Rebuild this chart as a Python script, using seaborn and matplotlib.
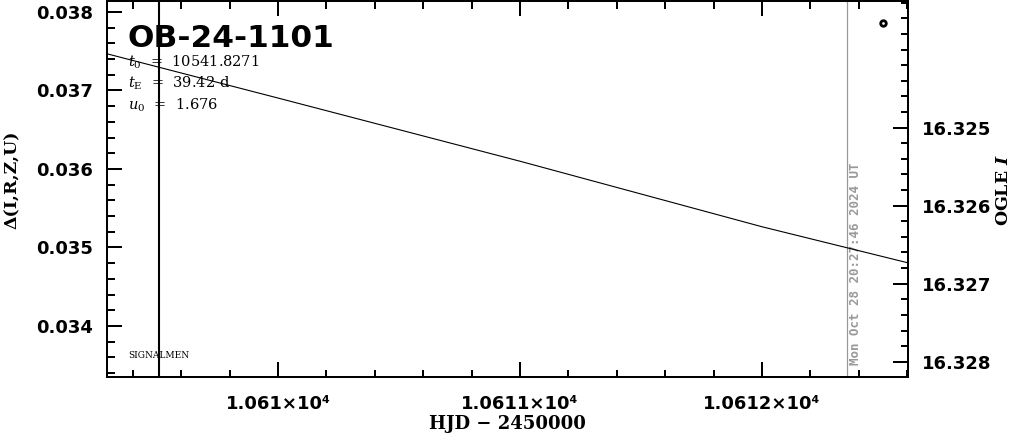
import numpy as np
import matplotlib
matplotlib.use('Agg')
import matplotlib.pyplot as plt
import matplotlib.ticker as mticker
import matplotlib.transforms as mtransforms
import seaborn as sns

# 数据
model_hjd = [10609.29, 10610.0, 10611.0, 10612.0, 10612.60]
model_mag = [16.32405, 16.32462, 16.32543, 16.32627, 16.32673]
obs_hjd = [10612.50]
obs_mag = [16.32366]

x_major = [10610, 10611, 10612]
x_labels = ['1.061×10⁴', '1.0611×10⁴', '1.0612×10⁴']
mag_major = [16.325, 16.326, 16.327, 16.328]
t_event_line = 10609.51
t_now_line = 10612.352

event_name = 'OB-24-1101'
param_lines = [r'$t_0$  =  10541.8271', r'$t_{\rm E}$  =  39.42 d', r'$u_0$  =  1.676']
date_text = 'Mon Oct 28 20:27:46 2024 UT'

sns.set_style('ticks')
plt.rcParams['font.family'] = ['DejaVu Sans']
plt.rcParams['mathtext.fontset'] = 'dejavuserif'
for k in ['text.color', 'axes.labelcolor', 'xtick.color', 'ytick.color', 'axes.edgecolor']:
    plt.rcParams[k] = 'black'

fig = plt.figure(figsize=(10.11, 4.34), dpi=100)
ax = fig.add_axes([107 / 1011, 57 / 434, 801 / 1011, 376 / 434])
ax2 = ax.twinx()

# 模型曲线和观测点（右轴：OGLE I 星等）
sns.lineplot(x=model_hjd, y=model_mag, ax=ax2, color='black', linewidth=0.8)
sns.scatterplot(x=obs_hjd, y=obs_mag, ax=ax2, marker='o', s=16,
                facecolor='white', edgecolor='black', linewidth=2.0, zorder=5)

ax.axvline(t_event_line, color='black', linewidth=1.5)
ax.axvline(t_now_line, color='#999999', linewidth=0.9)

ax.set_xlim(10609.2934, 10612.6033)
ax.set_ylim(0.03335, 0.03814)
ax2.set_ylim(16.328196, 16.323376)

lw = 1.44
for a in (ax, ax2):
    for sp in a.spines.values():
        sp.set_linewidth(lw)
        sp.set_color('black')
        sp.set_visible(True)

ax.xaxis.set_major_locator(mticker.FixedLocator(x_major))
ax.xaxis.set_major_formatter(mticker.FixedFormatter(x_labels))
ax.xaxis.set_minor_locator(mticker.MultipleLocator(0.2))
ax.yaxis.set_major_locator(mticker.MultipleLocator(0.001))
ax.yaxis.set_minor_locator(mticker.MultipleLocator(0.0002))
ax.yaxis.set_major_formatter(mticker.FormatStrFormatter('%.3f'))
ax2.yaxis.set_major_locator(mticker.FixedLocator(mag_major))
ax2.yaxis.set_minor_locator(mticker.MultipleLocator(0.0002))
ax2.yaxis.set_major_formatter(mticker.FormatStrFormatter('%.3f'))

ax.tick_params(axis='x', which='both', direction='in', top=True, bottom=True,
               width=lw, color='black')
ax.tick_params(axis='x', which='major', length=10.8, pad=13)
ax.tick_params(axis='x', which='minor', length=5.4)
ax.tick_params(axis='y', which='both', direction='in', left=True, right=False,
               width=lw, color='black')
ax.tick_params(axis='y', which='major', length=10.8, pad=10)
ax.tick_params(axis='y', which='minor', length=5.4)
ax2.tick_params(axis='y', which='both', direction='in', right=True, left=False,
                width=lw, color='black')
ax2.tick_params(axis='y', which='major', length=10.8, pad=10)
ax2.tick_params(axis='y', which='minor', length=5.4)

for lab in ax.get_xticklabels() + ax.get_yticklabels() + ax2.get_yticklabels():
    lab.set_fontsize(13)
    lab.set_fontweight('bold')
    lab.set_family('DejaVu Sans')
    lab.set_color('black')

ax.set_xlabel('HJD − 2450000', fontsize=13, fontweight='bold', family='DejaVu Serif')
ax.xaxis.set_label_coords(0.5, -0.101)
ax.set_ylabel('Δ(I,R,Z,U)', fontsize=12.5, fontweight='bold', family='DejaVu Serif')
ax.yaxis.set_label_coords(-0.1075, 0.524)
ax2.set_ylabel('OGLE $\\mathbfit{I}$', fontsize=12.5, fontweight='bold', family='DejaVu Serif',
               rotation=90)
ax2.yaxis.set_label_coords(1.1086, 0.497)

# 标注文字
ax.text(0.0262, 0.878, event_name, transform=ax.transAxes, fontsize=22.5,
        fontweight='bold', family='DejaVu Sans', va='baseline', ha='left')
for yy, s in zip([0.8245, 0.7686, 0.710], param_lines):
    ax.text(0.0262, yy, s, transform=ax.transAxes, fontsize=10.5,
            family='DejaVu Serif', va='baseline', ha='left')
ax.text(0.0262, 0.0585, 'SIGNALMEN', transform=ax.transAxes, fontsize=6.5,
        family='DejaVu Serif', va='center', ha='left')

trans = mtransforms.blended_transform_factory(ax.transData, ax.transAxes)
ax.text(10612.388, 0.032, date_text, transform=trans, rotation=90,
        fontsize=9, fontweight='bold', family='DejaVu Sans Mono',
        color='#999999', ha='center', va='bottom')

fig.savefig('out.png', dpi=100)
